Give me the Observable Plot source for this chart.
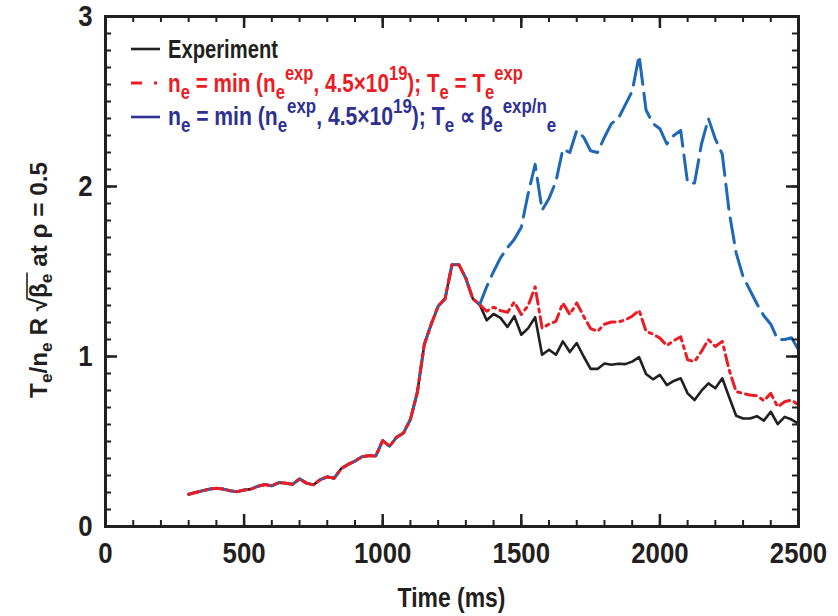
<!DOCTYPE html>
<html><head><meta charset="utf-8">
<script src="https://cdn.jsdelivr.net/npm/d3@7"></script>
<script src="https://cdn.jsdelivr.net/npm/@observablehq/plot@0.6"></script>
<style>
body{margin:0;background:#fff;}
#chart{position:relative;width:838px;height:616px;}
</style></head><body><div id="chart"></div>
<script>
// ---- data ----
// shared part: all three curves coincide up to 1350 ms
const timeEarly = [300,325,350,375,400,425,450,475,500,525,550,575,600,625,650,675,700,725,750,775,800,825,850,875,900,925,950,975,1000,1025,1050,1075,1100,1125,1150,1175,1200,1225,1250,1275,1300,1325,1350];
const valueEarly = [0.19,0.20,0.21,0.22,0.225,0.22,0.21,0.205,0.215,0.22,0.237,0.247,0.239,0.258,0.255,0.248,0.28,0.255,0.245,0.276,0.292,0.284,0.34,0.365,0.385,0.41,0.417,0.415,0.505,0.472,0.525,0.55,0.63,0.79,1.07,1.19,1.296,1.34,1.54,1.54,1.46,1.34,1.305];
const timeLate = [1375,1400,1425,1450,1475,1500,1525,1550,1575,1600,1625,1650,1675,1700,1725,1750,1775,1800,1825,1850,1875,1900,1925,1950,1975,2000,2025,2050,2075,2100,2125,2150,2175,2200,2225,2250,2275,2300,2325,2350,2375,2400,2425,2450,2475,2500];
const experimentLate = [1.213,1.25,1.227,1.174,1.237,1.128,1.167,1.231,1.01,1.04,1.01,1.089,1.026,1.079,1.0,0.927,0.927,0.959,0.951,0.957,0.955,0.97,0.996,0.897,0.866,0.892,0.832,0.856,0.872,0.783,0.744,0.799,0.842,0.813,0.872,0.76,0.651,0.635,0.635,0.649,0.623,0.675,0.602,0.645,0.629,0.605];
const densityCapLate = [1.266,1.29,1.27,1.26,1.32,1.247,1.30,1.41,1.167,1.19,1.207,1.315,1.247,1.315,1.237,1.164,1.148,1.19,1.203,1.203,1.215,1.237,1.272,1.148,1.132,1.108,1.065,1.093,1.116,0.98,0.97,1.03,1.099,1.059,1.089,0.92,0.793,0.783,0.773,0.769,0.74,0.783,0.704,0.734,0.744,0.714];
const betaScaledLate = [1.41,1.50,1.58,1.64,1.69,1.76,1.96,2.13,1.86,1.93,2.03,2.22,2.20,2.33,2.29,2.21,2.20,2.29,2.37,2.40,2.48,2.56,2.77,2.45,2.37,2.34,2.25,2.30,2.33,2.02,2.02,2.25,2.40,2.28,2.19,1.85,1.61,1.47,1.39,1.31,1.24,1.19,1.10,1.10,1.11,1.04];
const xTicks = [0,500,1000,1500,2000,2500];
const yTicks = [0,1,2,3];
const legendLabels = ["Experiment"];

// ---- build tables ----
const early = timeEarly.map((t,i)=>({t, v:valueEarly[i]}));
const mk = arr => early.concat(timeLate.map((t,i)=>({t, v:arr[i]})));
const experiment = mk(experimentLate);
const densityCap = mk(densityCapLate);
const betaScaled = mk(betaScaledLate);

const FONT = "'Liberation Sans', Arial, Helvetica, sans-serif";
const INK = "#231f20", RED = "#ec1c24", BLUE = "#1f68b8", NAVY = "#2e3191";
const W=838, H=616, mL=105, mR=40, mT=16, mB=90;
const innerW = W-mL-mR, innerH = H-mT-mB;
const xMinor = d3.range(0, 2501, 100);
const yMinor = d3.range(0, 3.001, 0.1);

const plot = Plot.plot({
  width: W, height: H,
  marginLeft: mL, marginRight: mR, marginTop: mT, marginBottom: mB,
  x: {domain: [0, 2500]},
  y: {domain: [0, 3]},
  style: {fontFamily: FONT, fontWeight: "bold", color: INK, background: "#fff"},
  marks: [
    Plot.line(experiment, {x: "t", y: "v", stroke: INK, strokeWidth: 2.6}),
    Plot.line(betaScaled, {x: "t", y: "v", stroke: BLUE, strokeWidth: 3, strokeDasharray: "25,9"}),
    Plot.line(densityCap, {x: "t", y: "v", stroke: RED, strokeWidth: 3, strokeDasharray: "11,5,3,5"}),
    Plot.tickX(xMinor, {x: d=>d, stroke: INK, strokeWidth: 2, insetTop: innerH-6}),
    Plot.tickX(xMinor, {x: d=>d, stroke: INK, strokeWidth: 2, insetBottom: innerH-6}),
    Plot.tickX(xTicks, {x: d=>d, stroke: INK, strokeWidth: 2.5, insetTop: innerH-12}),
    Plot.tickX(xTicks, {x: d=>d, stroke: INK, strokeWidth: 2.5, insetBottom: innerH-12}),
    Plot.tickY(yMinor, {y: d=>d, stroke: INK, strokeWidth: 2, insetRight: innerW-6}),
    Plot.tickY(yMinor, {y: d=>d, stroke: INK, strokeWidth: 2, insetLeft: innerW-6}),
    Plot.tickY(yTicks, {y: d=>d, stroke: INK, strokeWidth: 2.5, insetRight: innerW-12}),
    Plot.tickY(yTicks, {y: d=>d, stroke: INK, strokeWidth: 2.5, insetLeft: innerW-12}),
    Plot.frame({stroke: INK, strokeWidth: 3}),
    Plot.axisX({ticks: xTicks, tickSize: 0, tickPadding: 15, fontSize: 30, fontWeight: "bold", tickFormat: d3.format("d"), label: null}),
    Plot.axisY({ticks: yTicks, tickSize: 0, tickPadding: 13, fontSize: 30, fontWeight: "bold", tickFormat: d3.format("d"), label: null})
  ]
});
document.getElementById("chart").appendChild(plot);

// condense axis tick labels (condensed bold face look)
d3.select(plot).selectAll("g[aria-label='x-axis tick label'] text, g[aria-label='y-axis tick label'] text")
  .each(function(){ const t = this.getAttribute("transform") || ""; this.setAttribute("transform", t + " scale(0.86,1)"); });

// ---- titles & legend (rich text) ----
const svg = d3.select(plot);
function rich(sel, parts, supShift, subShift, supSize, subSize){
  let cur = 0;
  parts.forEach(([txt, kind]) => {
    const target = kind === "sup" ? -supShift : kind === "sub" ? subShift : 0;
    const ts = sel.append("tspan").attr("dy", target - cur).text(txt);
    if (kind === "sup") ts.attr("font-size", supSize);
    if (kind === "sub") ts.attr("font-size", subSize);
    cur = target;
  });
}
// block placed at (x,y) with a given anchor, squeezed to a target width
function block(x, y, rot, anchor, size, fill, targetW){
  const g = svg.append("g").attr("transform", `translate(${x},${y})` + (rot ? ` rotate(${rot})` : ""));
  const inner = g.append("g");
  const t = inner.append("text").attr("x",0).attr("y",0).attr("text-anchor", anchor)
    .attr("font-size", size).attr("font-weight","bold").attr("fill", fill).attr("font-family", FONT);
  return {g, inner, t, fit(){ const L = t.node().getComputedTextLength(); inner.attr("transform", `scale(${targetW/L},1)`); }};
}

// x title
const xt = block(mL + innerW/2, 607, 0, "middle", 27, INK, 108);
xt.t.text("Time (ms)"); xt.fit();

// y title
const yt = block(47, 280, -90, "middle", 24, INK, 236);
rich(yt.t, [["T"],["e","sub"],["/n"],["e","sub"],[" R \u221A"],["\u03B2"],["e","sub"],[" at \u03C1 = 0.5"]], 9, 5, 17, 17);
yt.fit();
{ const n = yt.t.node();
  const x0 = n.getEndPositionOfChar(8).x - 1.5, x1 = n.getEndPositionOfChar(10).x + 1;
  yt.inner.append("line").attr("x1", x0).attr("x2", x1).attr("y1", -20).attr("y2", -20)
    .attr("stroke", INK).attr("stroke-width", 1.6); }

// legend samples
const lg = svg.append("g");
lg.append("line").attr("x1",131).attr("x2",160).attr("y1",49).attr("y2",49).attr("stroke",INK).attr("stroke-width",2.6);
lg.append("line").attr("x1",131).attr("x2",160).attr("y1",83).attr("y2",83).attr("stroke",RED).attr("stroke-width",3).attr("stroke-dasharray","11,12,3,20");
lg.append("line").attr("x1",131).attr("x2",160).attr("y1",117).attr("y2",117).attr("stroke",NAVY).attr("stroke-width",2.6);
const r1 = block(168, 58, 0, "start", 25, INK, 110);
r1.t.text(legendLabels[0]); r1.fit();
const r2 = block(168, 92, 0, "start", 25, RED, 355);
rich(r2.t, [["n"],["e","sub"],[" = min (n"],["e","sub"],["exp","sup"],[", 4.5\u00D710"],["19","sup"],["); T"],["e","sub"],[" = T"],["e","sub"],["exp","sup"]], 12, 7, 20, 20);
r2.fit();
const r3 = block(168, 125, 0, "start", 25, NAVY, 389);
rich(r3.t, [["n"],["e","sub"],[" = min (n"],["e","sub"],["exp","sup"],[", 4.5\u00D710"],["19","sup"],["); T"],["e","sub"],[" \u221D \u03B2"],["e","sub"],["exp/n","sup"],["e","sub"]], 12, 7, 20, 20);
r3.fit();
</script></body></html>
